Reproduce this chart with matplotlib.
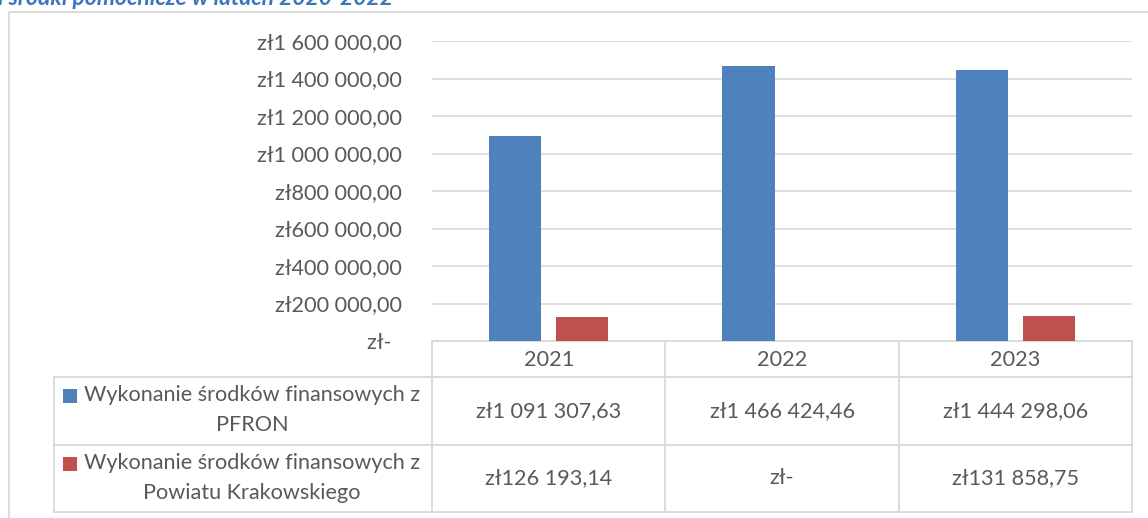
import matplotlib
matplotlib.use("Agg")
import matplotlib.pyplot as plt
from matplotlib.ticker import FuncFormatter
from matplotlib.transforms import blended_transform_factory
from matplotlib.patches import Rectangle
import numpy as np

# ---------------- data ----------------
years = ["2021", "2022", "2023"]
series_names = [
    "Wykonanie środków finansowych z\nPFRON",
    "Wykonanie środków finansowych z\nPowiatu Krakowskiego",
]
pfron = [1091307.63, 1466424.46, 1444298.06]
powiat = [126193.14, 0.0, 131858.75]
yticks = [0, 200000, 400000, 600000, 800000, 1000000, 1200000, 1400000, 1600000]
title = "i środki pomocnicze w latach 2020-2022"

colors = ["#4F81BD", "#C0504D"]
TXT = "#595959"
GRID = "#D9D9D9"
FONT = ["Lato", "DejaVu Sans"]
plt.rcParams["font.family"] = FONT
FS = 15.6

def pln(v):
    if v == 0:
        return "zł-"
    s = f"{v:,.2f}".replace(",", " ").replace(".", ",")
    return "zł" + s

W, H = 1148, 518
fig = plt.figure(figsize=(W / 100, H / 100), dpi=100)

# overlay for table / frame / title (pixel coordinates)
ov = fig.add_axes([0, 0, 1, 1])
ov.set_xlim(0, W)
ov.set_ylim(H, 0)
ov.axis("off")

L, R, T, B = 432, 1132, 41, 341
ax = fig.add_axes([L / W, 1 - B / H, (R - L) / W, (B - T) / H])
ax.set_xlim(-0.5, len(years) - 0.5)
ax.set_ylim(yticks[0], yticks[-1])

x = np.arange(len(years))
bw = 0.225
off = 0.1436
ax.bar(x - off, pfron, width=bw, color=colors[0], zorder=3)
ax.bar(x + off, powiat, width=bw, color=colors[1], zorder=3)

ax.set_yticks(yticks)
ax.yaxis.set_major_formatter(FuncFormatter(lambda v, p: pln(v) + ("  " if v == 0 else "")))
ax.set_xticks([])
ax.yaxis.grid(True, color=GRID, lw=1.2)
ax.set_axisbelow(True)
ax.tick_params(axis="y", length=0, pad=21.5, labelsize=FS, labelcolor=TXT)
for s in ax.spines.values():
    s.set_visible(False)
ax.patch.set_alpha(0)

# frame
ov.add_patch(Rectangle((9, 11.5), 1300, 700, fill=False, edgecolor=GRID, lw=1.3, clip_on=False))

# title (cut at the top like the reference)
ov.text(-2, 5, title, fontsize=16.5, fontweight="bold", fontstyle="italic",
        color="#3D75BD", va="baseline", ha="left")

# ---------------- data table ----------------
blend = blended_transform_factory(ax.transData, ov.transData)
hdr_top, hdr_bot, r1_bot, r2_bot = 341, 377, 445, 512
tleft = 54
lkw = dict(color=GRID, lw=1.3, solid_capstyle="projecting", clip_on=False)

ov.plot([L, R], [hdr_top, hdr_top], **lkw)
for yy in (hdr_bot, r1_bot, r2_bot):
    ov.plot([tleft, R], [yy, yy], **lkw)
ov.plot([tleft, tleft], [hdr_bot, r2_bot], **lkw)
for b in np.arange(len(years) + 1) - 0.5:
    ov.plot([b, b], [hdr_top, r2_bot], transform=blend, **lkw)

for i, yr in enumerate(years):
    ov.text(i, (hdr_top + hdr_bot) / 2 + 1, yr, transform=blend, ha="center", va="center",
            fontsize=FS, color=TXT)

rows = [(hdr_bot, r1_bot, pfron), (r1_bot, r2_bot, powiat)]
for k, (top, bot, vals) in enumerate(rows):
    for i, v in enumerate(vals):
        ov.text(i, (top + bot) / 2, pln(v), transform=blend, ha="center", va="center",
                fontsize=FS, color=TXT)
    lines = series_names[k].split("\n")
    ov.text(252, top + 18, lines[0], ha="center", va="center", fontsize=FS, color=TXT)
    ov.text(252, top + 48, lines[1], ha="center", va="center", fontsize=FS, color=TXT)
    ov.add_patch(Rectangle((63, top + 12), 14, 14, color=colors[k], lw=0))

fig.savefig("out.png", dpi=100)
